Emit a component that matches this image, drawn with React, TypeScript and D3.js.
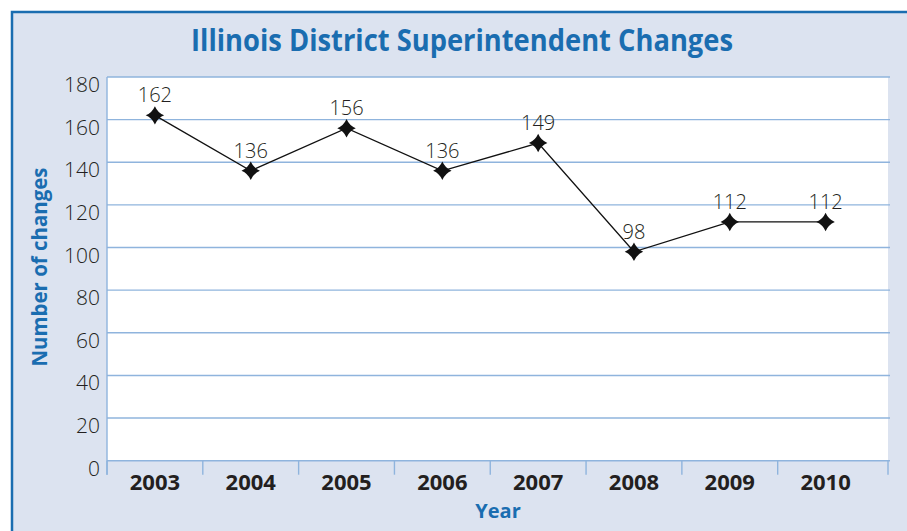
import * as d3 from "d3";
import { useEffect, useRef } from "react";

const width = 907;
const height = 531;

const years = ["2003", "2004", "2005", "2006", "2007", "2008", "2009", "2010"];
const changes = [162, 136, 156, 136, 149, 98, 112, 112];
const yTicks = [0, 20, 40, 60, 80, 100, 120, 140, 160, 180];

const titleText = "Illinois District Superintendent Changes";
const xTitle = "Year";
const yTitle = "Number of changes";

const blue = "#1a6db0";
const gridBlue = "#8fb4dd";
const panel = "#dce3f0";
const ink = "#231f20";

// 4-point "sparkle" marker with concave sides
const star4 = {
  draw(context: any, size: number) {
    const r = Math.sqrt(size);
    const c = r * 0.3;
    context.moveTo(0, -r);
    context.quadraticCurveTo(c, -c, r, 0);
    context.quadraticCurveTo(c, c, 0, r);
    context.quadraticCurveTo(-c, c, -r, 0);
    context.quadraticCurveTo(-c, -c, 0, -r);
    context.closePath();
  },
};

const plotLeft = 107;
const plotRight = 888;
const plotTop = 77;
const plotBottom = 460.7;

const Chart = () => {
  const ref = useRef<SVGSVGElement>(null);

  useEffect(() => {
    const svg = d3.select(ref.current);
    svg.selectAll("*").remove();

    const x = d3.scaleBand().domain(years).range([plotLeft, 873.5]);
    const y = d3.scaleLinear().domain([0, 180]).range([plotBottom, plotTop]);
    const cx = (d: string) => (x(d) as number) + x.bandwidth() / 2;

    svg.append("rect").attr("width", width).attr("height", height).attr("fill", "#fff");
    svg
      .append("rect")
      .attr("x", 12)
      .attr("y", 12)
      .attr("width", width)
      .attr("height", height)
      .attr("fill", panel)
      .attr("stroke", blue)
      .attr("stroke-width", 2.5);

    svg
      .append("rect")
      .attr("x", plotLeft)
      .attr("y", plotTop)
      .attr("width", plotRight - plotLeft)
      .attr("height", plotBottom - plotTop)
      .attr("fill", "#fff");

    // gridlines
    svg
      .append("g")
      .selectAll("line")
      .data(yTicks)
      .enter()
      .append("line")
      .attr("x1", plotLeft)
      .attr("x2", plotRight + 2)
      .attr("y1", (d) => y(d))
      .attr("y2", (d) => y(d))
      .attr("stroke", gridBlue)
      .attr("stroke-width", 1.4);

    // y axis line
    svg
      .append("line")
      .attr("x1", plotLeft)
      .attr("x2", plotLeft)
      .attr("y1", plotTop)
      .attr("y2", plotBottom + 14)
      .attr("stroke", gridBlue)
      .attr("stroke-width", 1.4);

    // x ticks
    const tickXs = years.map((d) => x(d) as number).concat([plotRight]);
    svg
      .append("g")
      .selectAll("line")
      .data(tickXs)
      .enter()
      .append("line")
      .attr("x1", (d) => d)
      .attr("x2", (d) => d)
      .attr("y1", plotBottom)
      .attr("y2", plotBottom + 14)
      .attr("stroke", gridBlue)
      .attr("stroke-width", 1.4);

    // y tick labels
    svg
      .append("g")
      .selectAll("text")
      .data(yTicks)
      .enter()
      .append("text")
      .attr("x", 100)
      .attr("y", (d) => y(d) + 15)
      .attr("text-anchor", "end")
      .attr("font-family", "Open Sans, sans-serif")
      .attr("font-weight", 300)
      .attr("font-size", 21)
      .attr("fill", ink)
      .text((d) => d);

    // x tick labels
    svg
      .append("g")
      .selectAll("text")
      .data(years)
      .enter()
      .append("text")
      .attr("x", (d) => cx(d))
      .attr("y", 490)
      .attr("text-anchor", "middle")
      .attr("font-family", "Open Sans, sans-serif")
      .attr("font-weight", "bold")
      .attr("font-size", 22)
      .attr("fill", ink)
      .text((d) => d);

    // line
    const line = d3
      .line<number>()
      .x((d, i) => cx(years[i]))
      .y((d) => y(d));
    svg
      .append("path")
      .datum(changes)
      .attr("d", line)
      .attr("fill", "none")
      .attr("stroke", "#111")
      .attr("stroke-width", 1.3);

    // markers
    const symbol = d3.symbol().type(star4 as any).size(85);
    svg
      .append("g")
      .selectAll("path")
      .data(changes)
      .enter()
      .append("path")
      .attr("d", symbol)
      .attr("transform", (d, i) => `translate(${cx(years[i])},${y(d)})`)
      .attr("fill", "#111");

    // value labels
    svg
      .append("g")
      .selectAll("text")
      .data(changes)
      .enter()
      .append("text")
      .attr("x", (d, i) => cx(years[i]))
      .attr("y", (d) => y(d) - 13)
      .attr("text-anchor", "middle")
      .attr("font-family", "Open Sans, sans-serif")
      .attr("font-weight", 300)
      .attr("font-size", 20)
      .attr("fill", ink)
      .text((d) => d);

    // titles
    svg
      .append("text")
      .attr("x", 462)
      .attr("y", 51)
      .attr("text-anchor", "middle")
      .attr("font-family", "Open Sans, sans-serif")
      .attr("font-weight", "bold")
      .attr("font-size", 31)
      .attr("fill", blue)
      .attr("textLength", 542)
      .attr("lengthAdjust", "spacingAndGlyphs")
      .text(titleText);

    svg
      .append("text")
      .attr("x", 498)
      .attr("y", 518)
      .attr("text-anchor", "middle")
      .attr("font-family", "Open Sans, sans-serif")
      .attr("font-weight", "bold")
      .attr("font-size", 20)
      .attr("fill", blue)
      .text(xTitle);

    svg
      .append("text")
      .attr("transform", "translate(47,267) rotate(-90)")
      .attr("text-anchor", "middle")
      .attr("font-family", "Open Sans, sans-serif")
      .attr("font-weight", "bold")
      .attr("font-size", 22)
      .attr("fill", blue)
      .attr("textLength", 199)
      .attr("lengthAdjust", "spacingAndGlyphs")
      .text(yTitle);
  }, []);

  return (
    <svg
      ref={ref}
      width={width}
      height={height}
      style={{ position: "absolute", left: 0, top: 0, display: "block" }}
    />
  );
};

export default function App() {
  return <Chart />;
}
